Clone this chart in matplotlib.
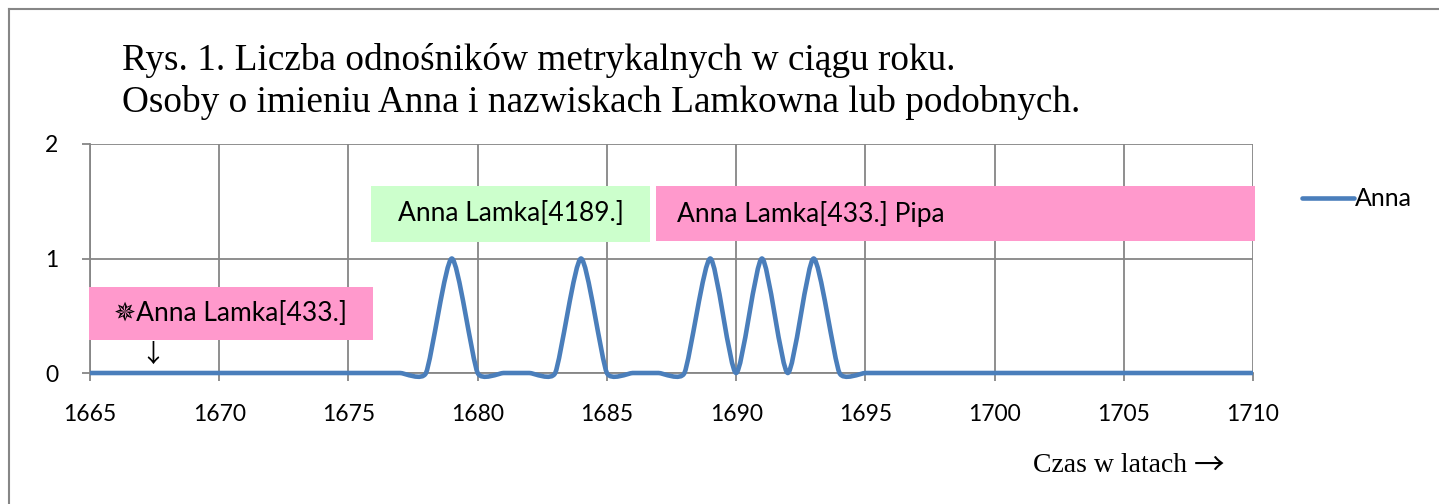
import numpy as np
import matplotlib
matplotlib.use("Agg")
from matplotlib import pyplot as plt
from matplotlib.path import Path
from matplotlib.patches import PathPatch, Rectangle
from matplotlib.lines import Line2D

# data: yearly count of records
years = list(range(1665, 1711))
peak_years = [1679, 1684, 1689, 1691, 1693]
counts = [1 if y in peak_years else 0 for y in years]

x_ticks = list(range(1665, 1711, 5))
y_ticks = [0, 1, 2]

title_lines = ["Rys. 1. Liczba odnośników metrykalnych w ciągu roku.",
               "Osoby o imieniu Anna i nazwiskach Lamkowna lub podobnych."]
series_name = "Anna"
xlabel = "Czas w latach"
note_green = "Anna Lamka[4189.]"
note_pink = "Anna Lamka[433.] Pipa"
note_first = "\u2735Anna Lamka[433.]"

blue = "#4A7EBB"
grid_col = "#868686"
pink = "#FF99CC"
green = "#CCFFCC"
serif = ["Liberation Serif", "DejaVu Serif"]
sans = ["Lato", "DejaVu Sans"]
arrow_font = ["Noto Sans CJK JP", "DejaVu Sans"]


def smooth_path(xs, ys, k=1 / 6):
    # excel-like smoothed line: bezier segments, tangent direction from
    # neighbours, control distance scaled by the segment length
    pts = np.column_stack([xs, ys]).astype(float)
    n = len(pts)

    def tangent(i):
        a = pts[i - 1] if i > 0 else pts[i]
        b = pts[i + 1] if i + 1 < n else pts[i]
        d = b - a
        L = np.hypot(*d)
        return d / L if L > 0 else d

    verts = [pts[0]]
    codes = [Path.MOVETO]
    for i in range(n - 1):
        p1, p2 = pts[i], pts[i + 1]
        seg = np.hypot(*(p2 - p1))
        c1 = p1 + tangent(i) * seg * k
        c2 = p2 - tangent(i + 1) * seg * k
        verts += [c1, c2, p2]
        codes += [Path.CURVE4] * 3
    return Path(verts, codes)


W, H = 1439, 504
fig = plt.figure(figsize=(W / 100, H / 100), dpi=100)
ax = fig.add_axes([90 / W, (H - 373) / H, (1253 - 90) / W, (373 - 144) / H])

ax.set_xlim(1665, 1710)
ax.set_ylim(0, 2)
ax.set_xticks(x_ticks)
ax.set_yticks(y_ticks)
ax.grid(True, color=grid_col, lw=1.3)
ax.set_axisbelow(True)
for s in ["top", "right"]:
    ax.spines[s].set_visible(False)
for s in ["left", "bottom"]:
    ax.spines[s].set_color(grid_col)
    ax.spines[s].set_linewidth(1.3)
ax.tick_params(colors=grid_col, length=6, width=1.3, labelcolor="black")
ax.tick_params(axis="x", pad=16)
ax.tick_params(axis="y", pad=17)
for lab in ax.get_xticklabels() + ax.get_yticklabels():
    lab.set_family(sans)
    lab.set_fontsize(16.5)

patch = PathPatch(smooth_path(years, counts), fill=False, edgecolor=blue,
                  lw=3.3, capstyle="butt", joinstyle="round", clip_on=False, zorder=5)
ax.add_patch(patch)

# note boxes
ax.add_patch(Rectangle((1675.87, 1.144), 10.8, 0.489, facecolor=green,
                       edgecolor="none", clip_on=False, zorder=4))
ax.add_patch(Rectangle((1686.90, 1.153), 23.18, 0.48, facecolor=pink,
                       edgecolor="none", clip_on=False, zorder=4))
ax.add_patch(Rectangle((1664.96, 0.288), 10.99, 0.463, facecolor=pink,
                       edgecolor="none", clip_on=False, zorder=4))
ax.text(1681.27, 1.39, note_green, family=sans, fontsize=19,
        ha="center", va="center", zorder=6)
ax.text(1687.7, 1.39, note_pink, family=sans, fontsize=19,
        ha="left", va="center", zorder=6)
ax.text(1670.45, 0.52, note_first, family=sans, fontsize=19,
        ha="center", va="center", zorder=6)
ax.text(1667.44, 0.16, "\u2193", family=arrow_font,
        fontsize=18, ha="center", va="center", zorder=6)

# legend
handle = Line2D([], [], color=blue, lw=3.3, solid_capstyle="round")
leg = fig.legend([handle], [series_name], loc="center left",
                 bbox_to_anchor=(1279 / W, (H - 199) / H), frameon=False,
                 handlelength=2.1, handletextpad=0.05,
                 prop={"family": sans, "size": 18})

# titles
fig.text(122 / W, (H - 60) / H, title_lines[0], family=serif, fontsize=26.8,
         ha="left", va="center")
fig.text(122 / W, (H - 103) / H, title_lines[1], family=serif, fontsize=26.8,
         ha="left", va="center")
fig.text(1033 / W, (H - 465) / H, xlabel, family=serif, fontsize=20,
         ha="left", va="center")
fig.text(1194 / W, (H - 466) / H, "\u2192", family=arrow_font, fontsize=22,
         ha="left", va="center")

# chart border (top and left edges visible)
fig.add_artist(Line2D([9 / W, 1.0], [(H - 9) / H] * 2, color=grid_col, lw=1.5))
fig.add_artist(Line2D([9 / W] * 2, [(H - 9) / H, 0.0], color=grid_col, lw=1.5))

fig.savefig("out.png", dpi=100)
